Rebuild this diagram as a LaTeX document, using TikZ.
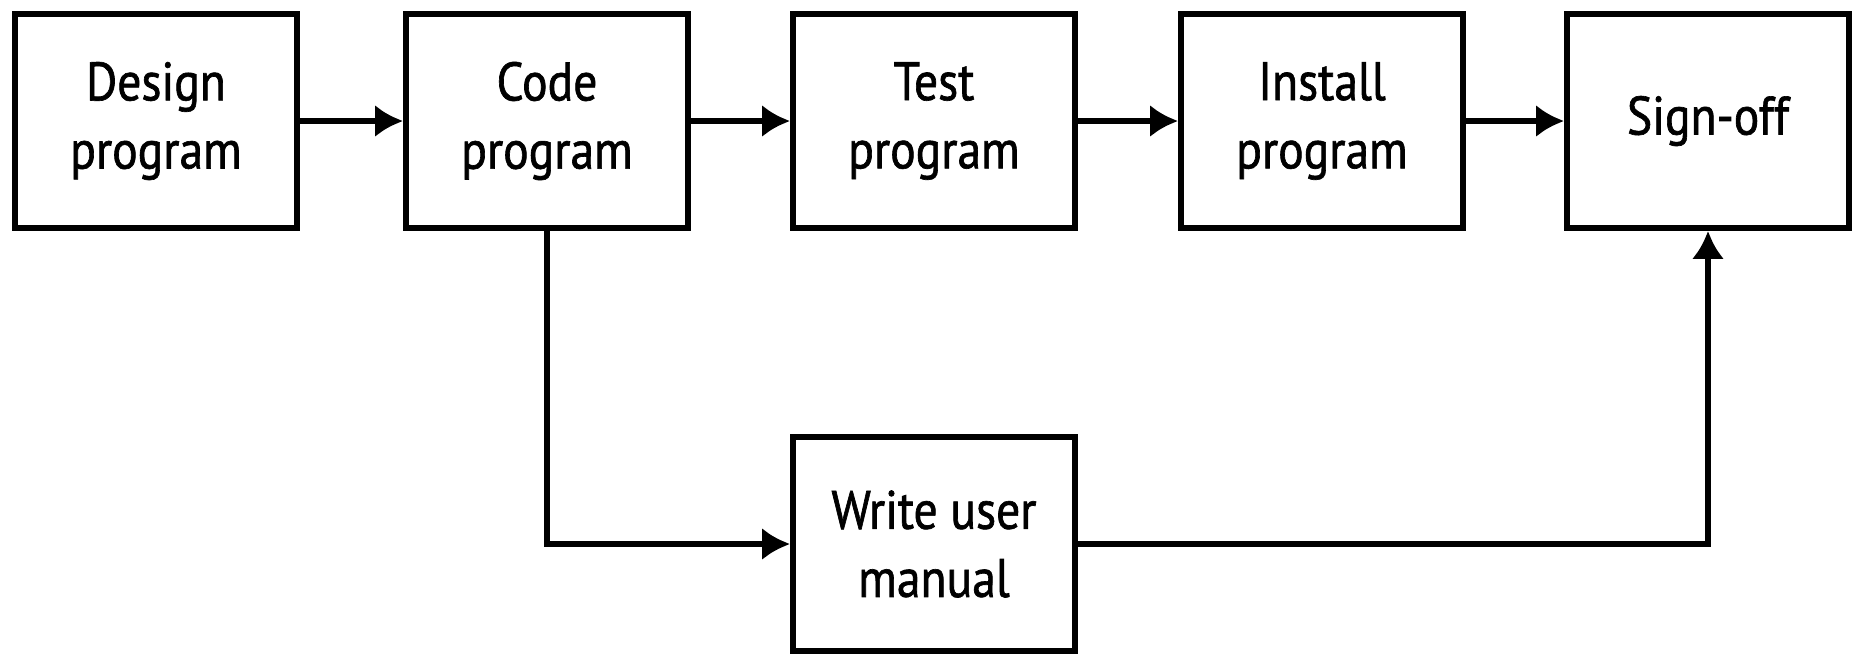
\documentclass[tikz,border=0pt]{standalone}
\usepackage{fontspec}
\setmainfont{PT Sans}[FakeStretch=0.88,FakeBold=1.2]
\usetikzlibrary{arrows.meta}

\begin{document}
\begin{tikzpicture}[
        stepbox/.style={draw,line width=1.6pt,minimum width=2.82cm,minimum height=2.14cm,
            inner sep=0pt,align=center,font=\fontsize{15.4}{19.4}\selectfont},
        flow/.style={line width=1.5pt,-{Latex[length=2.8mm,width=3.2mm]}}
    ]
        \useasboundingbox (0,0) rectangle (18.62,-6.54);

        % Main line
        \node[stepbox] (design) at (1.56,-1.21) {Design\\program};
        \node[stepbox] (code) at (5.47,-1.21) {Code\\program};
        \node[stepbox] (test) at (9.34,-1.21) {Test\\program};
        \node[stepbox] (install) at (13.22,-1.21) {Install\\program};
        \node[stepbox] (signoff) at (17.08,-1.21) {Sign-off};

        % Manual
        \node[stepbox] (manual) at (9.34,-5.44) {Write user\\manual};

        \draw[flow] (design) -- (code);
        \draw[flow] (code) -- (test);
        \draw[flow] (test) -- (install);
        \draw[flow] (install) -- (signoff);
        \draw[flow] (code.south) |- (manual.west);
        \draw[flow] (manual.east) -| (signoff.south);
    \end{tikzpicture}
\end{document}
